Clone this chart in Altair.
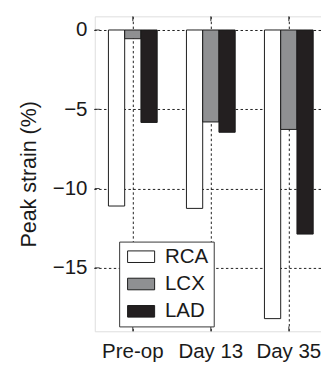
import altair as alt
import pandas as pd

categories = ["Pre-op", "Day 13", "Day 35"]
series = ["RCA", "LCX", "LAD"]
rca = [-11.1, -11.25, -18.2]
lcx = [-0.55, -5.8, -6.27]
lad = [-5.83, -6.45, -12.87]
colors = ["#ffffff", "#8f9092", "#231f20"]
y_ticks = [0, -5, -10, -15]

rows = []
for i, c in enumerate(categories):
    for s, vals in zip(series, [rca, lcx, lad]):
        rows.append({"cat": c, "series": s, "value": vals[i]})
df = pd.DataFrame(rows)
ticks_df = pd.DataFrame({"cat": categories})
yt_df = pd.DataFrame({"v": y_ticks})

FONT = "Liberation Sans"
W, H = 240, 323

xscale = alt.Scale(domain=categories, range=[-1, 239], paddingInner=0.375, paddingOuter=0.1875)
yscale = alt.Scale(domain=[-19, 0.86], nice=False, zero=False)

bars = alt.Chart(df).mark_bar(stroke="#1a1a1a", strokeWidth=1).encode(
    x=alt.X("cat:N", scale=xscale, sort=categories,
            axis=alt.Axis(title=None, grid=True, bandPosition=0.5, ticks=False,
                          labelAngle=0, labelFont=FONT, labelFontSize=21, labelColor="#1a1a1a",
                          labelPadding=10, domain=False,
                          gridDash=[2.5, 2.5], gridColor="#000", gridWidth=1, gridOpacity=0.9)),
    xOffset=alt.XOffset("series:N", sort=series, scale=alt.Scale(paddingInner=0, paddingOuter=0)),
    y=alt.Y("value:Q", scale=yscale,
            axis=alt.Axis(title="Peak strain (%)", values=y_ticks, ticks=False, domain=False,
                          labelExpr="datum.value < 0 ? '\u2212' + abs(datum.value) : datum.label",
                          labelFont=FONT, labelFontSize=21, labelColor="#1a1a1a", labelPadding=8,
                          titleFont=FONT, titleFontSize=22, titleFontWeight="normal",
                          titleColor="#1a1a1a", titlePadding=12,
                          grid=True, gridDash=[2.5, 2.5], gridColor="#000", gridWidth=1, gridOpacity=0.9)),
    y2=alt.datum(0),
    fill=alt.Fill("series:N", sort=series,
                  scale=alt.Scale(domain=series, range=colors),
                  legend=alt.Legend(title=None, orient="none", legendX=25, legendY=231,
                                    fillColor="#ffffff", strokeColor="#333333", padding=5,
                                    symbolType="M-1.4,-0.6H1.4V0.6H-1.4Z", symbolSize=392,
                                    symbolStrokeColor="#1a1a1a", symbolStrokeWidth=1,
                                    symbolOffset=7,
                                    labelFont=FONT, labelFontSize=21, labelColor="#1a1a1a",
                                    labelOffset=14, rowPadding=6)),
)

bot_ticks = alt.Chart(ticks_df).mark_rule(color="#333", strokeWidth=1).encode(
    x=alt.X("cat:N", scale=xscale, sort=categories),
    y=alt.value(H - 5), y2=alt.value(H))
top_ticks = alt.Chart(ticks_df).mark_rule(color="#333", strokeWidth=1).encode(
    x=alt.X("cat:N", scale=xscale, sort=categories),
    y=alt.value(0), y2=alt.value(5))
left_ticks = alt.Chart(yt_df).mark_rule(color="#333", strokeWidth=1).encode(
    y=alt.Y("v:Q", scale=yscale),
    x=alt.value(0), x2=alt.value(5))

chart = alt.layer(bars, bot_ticks, top_ticks, left_ticks).properties(
    width=W, height=H,
    autosize=alt.AutoSizeParams(type="none"),
    padding={"left": 89, "top": 4, "right": -8, "bottom": 30},
).configure_view(stroke="#333333", strokeWidth=1).configure(background="white")

chart.save("out.html", embed_options={"renderer": "svg", "actions": False})
